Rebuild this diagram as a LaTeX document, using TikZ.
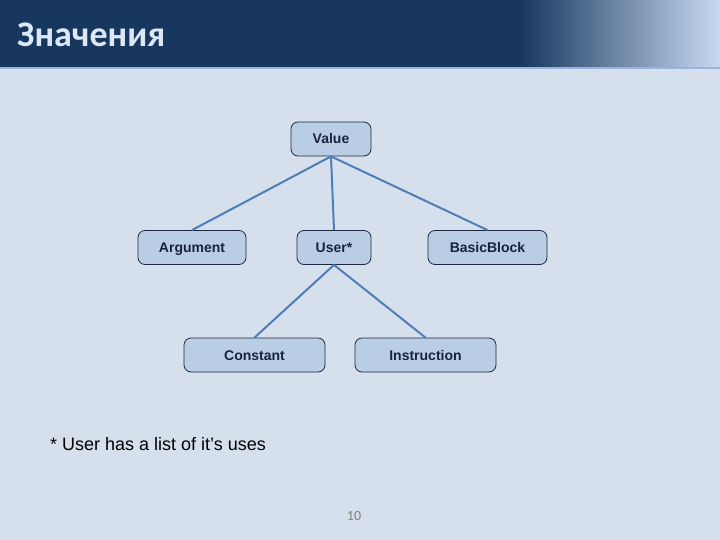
\documentclass[tikz,border=0pt]{standalone}
\usepackage{fontspec}
\setmainfont{Liberation Sans}
\newfontfamily\titlefont{Carlito}
\definecolor{bgc}{RGB}{214,224,236}
\definecolor{hdr}{RGB}{23,55,94}
\definecolor{hdrlight}{RGB}{200,218,240}
\definecolor{hdrline}{RGB}{150,180,220}
\definecolor{nfill}{RGB}{185,205,229}
\definecolor{nborder}{RGB}{30,40,60}
\definecolor{ntext}{RGB}{25,35,60}
\definecolor{conn}{RGB}{79,125,185}
\definecolor{titlec}{RGB}{220,232,246}
\tikzset{
  box/.style={draw=nborder, fill=nfill, rounded corners=7pt, line width=0.8pt,
    minimum height=34pt, inner sep=0pt, text height=10pt, text depth=0pt,
    font=\bfseries\fontsize{14}{16}\selectfont, text=ntext},
  link/.style={draw=conn, line width=2pt}
}
\begin{document}
\begin{tikzpicture}[x=1pt,y=-1pt]
\useasboundingbox (0,0) rectangle (720,540);
\fill[bgc] (0,0) rectangle (720,540);
\fill[hdr] (0,0) rectangle (521,67);
\shade[left color=hdr, right color=hdrlight] (520,0) rectangle (720,67);
\fill[hdrline] (0,67) rectangle (720,69);
\node[anchor=base west, text=titlec, font=\titlefont\bfseries\fontsize{36}{40}\selectfont, inner sep=0pt] (title) at (17,47) {Значения};

\node[box, minimum width=80pt] (value) at (331,139) {Value};
\node[box, minimum width=108pt] (arg) at (192,247.5) {Argument};
\node[box, minimum width=74pt] (user) at (334,247.5) {User*};
\node[box, minimum width=119pt] (bb) at (487.5,247.5) {BasicBlock};
\node[box, minimum width=141pt] (const) at (254.5,355) {Constant};
\node[box, minimum width=141pt] (instr) at (425.5,355) {Instruction};

\draw[link] (value.south) -- (arg.north);
\draw[link] (value.south) -- (user.north);
\draw[link] (value.south) -- (bb.north);
\draw[link] (user.south) -- (const.north);
\draw[link] (user.south) -- (instr.north);

\node[anchor=base west, inner sep=0pt, font=\fontsize{18}{20}\selectfont] (note) at (50,450) {* User has a list of it’s uses};
\node[anchor=base, inner sep=0pt, text=gray, font=\titlefont\fontsize{14}{16}\selectfont] (page) at (354,520) {10};
\end{tikzpicture}
\end{document}
